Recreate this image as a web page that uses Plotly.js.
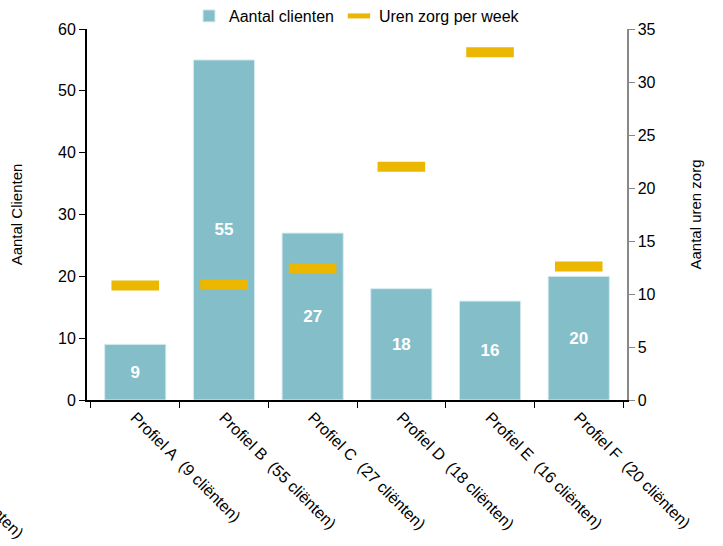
<!DOCTYPE html>
<html><head><meta charset="utf-8">
<script src="https://cdn.plot.ly/plotly-3.0.1.min.js"></script>
<style>body{margin:0;}#c{width:723px;height:546px;}</style>
</head><body><div id="c"></div>
<script>
var categories = ["Profiel A\u00a0\u00a0(9 cliënten)","Profiel B\u00a0\u00a0(55 cliënten)","Profiel C\u00a0\u00a0(27 cliënten)","Profiel D\u00a0\u00a0(18 cliënten)","Profiel E\u00a0\u00a0(16 cliënten)","Profiel F\u00a0\u00a0(20 cliënten)"];
var clients = [9, 55, 27, 18, 16, 20];
var hours = [10.8, 10.9, 12.4, 22.0, 32.8, 12.6];
var font = "Liberation Sans, Arial, sans-serif";

var traces = [
  {type:"bar", name:"Aantal clienten", x:categories, y:clients,
   marker:{color:"#83BEC9", line:{color:"#D8ECF0", width:1}},
   text:clients.map(String), textposition:"inside", insidetextanchor:"middle",
   textfont:{family:font, size:17, color:"#FFFFFF", weight:"bold"},
   textangle:0, hoverinfo:"skip"},
  {type:"scatter", mode:"markers", name:"Uren zorg per week", x:categories, y:hours, yaxis:"y2",
   marker:{symbol:"line-ew", size:34, color:"#EBB700", line:{color:"#EBB700", width:10}}}
];

var layout = {
  width:723, height:546,
  margin:{l:87, r:96, t:29, b:146, autoexpand:false},
  paper_bgcolor:"#FFFFFF", plot_bgcolor:"#FFFFFF",
  font:{family:font, size:16, color:"#000000"},
  bargap:0.31,
  showlegend:true,
  legend:{orientation:"h", x:0.5, xanchor:"center", y:1.035, yanchor:"middle",
          font:{family:font, size:16}, itemwidth:30, tracegroupgap:0},
  xaxis:{type:"category", tickangle:45, tickson:"boundaries", ticks:"outside", ticklen:6,
         tickcolor:"#000", showline:true, linecolor:"#000", linewidth:2, showgrid:false,
         tickfont:{family:font, size:16}, automargin:false, fixedrange:true},
  yaxis:{range:[0,60], dtick:10, ticks:"outside", ticklen:6, tickcolor:"#000",
         showline:true, linecolor:"#000", linewidth:2, showgrid:false, zeroline:false,
         tickfont:{family:font, size:16}, automargin:false,
         title:{text:"Aantal Clienten", font:{family:font, size:15}, standoff:32}},
  yaxis2:{range:[0,35], dtick:5, overlaying:"y", side:"right", ticks:"outside", ticklen:6,
          tickcolor:"#888", showline:true, linecolor:"#888", linewidth:1.5, showgrid:false,
          zeroline:false, tickfont:{family:font, size:16}, automargin:false,
          title:{text:"Aantal uren zorg", font:{family:font, size:15}, standoff:36}},
  annotations:[{text:"(9 cliënten)", xref:"paper", yref:"paper", x:-0.243, y:-0.39,
                showarrow:false, textangle:45, font:{family:font, size:16}}]
};
Plotly.newPlot("c", traces, layout, {displayModeBar:false, staticPlot:true});
</script></body></html>
